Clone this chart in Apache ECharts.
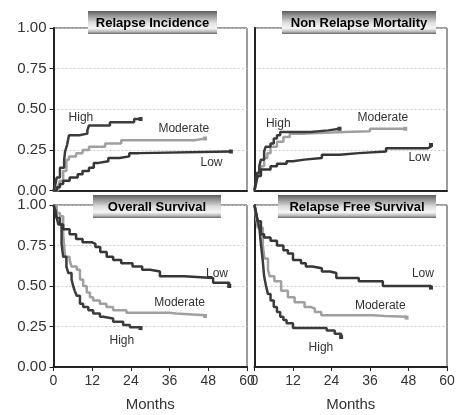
<!DOCTYPE html>
<html>
<head>
<meta charset="utf-8">
<script src="https://cdn.jsdelivr.net/npm/echarts@6/dist/echarts.min.js"></script>
<style>
html,body{margin:0;padding:0;background:#fff;}
#chart{width:474px;height:415px;}
</style>
</head>
<body>
<div id="chart"></div>
<script>
// ---- data (months, probability) ----
const xTicks = [0, 12, 24, 36, 48, 60];
const yTicks = [0, 0.25, 0.5, 0.75, 1];
const panelTitles = ['Relapse Incidence', 'Non Relapse Mortality', 'Overall Survival', 'Relapse Free Survival'];
const groupNames = ['High', 'Moderate', 'Low'];

// Relapse Incidence
const riHigh = [[0,0],[0.5,0.03],[1,0.08],[2,0.14],[3.3,0.19],[3.6,0.24],[4.2,0.28],[4.8,0.34],[8,0.35],[10.5,0.37],[11,0.40],[17.5,0.42],[25,0.44],[27,0.44]];
const riModerate = [[0,0],[1.5,0.03],[2,0.06],[3,0.12],[4,0.19],[4.8,0.21],[7,0.23],[9,0.25],[11,0.27],[16,0.29],[21,0.31],[44,0.32],[47,0.32]];
const riLow = [[0,0],[1,0.02],[2,0.04],[3,0.06],[5,0.08],[7.5,0.1],[9,0.12],[11,0.14],[12.5,0.17],[14,0.18],[17,0.2],[20.5,0.21],[23.5,0.23],[26.5,0.24],[55,0.24]];

// Non Relapse Mortality
const nrmHigh = [[0,0],[0.3,0.05],[0.8,0.11],[1.5,0.15],[2,0.19],[3,0.24],[3.5,0.27],[5,0.29],[6,0.32],[7,0.34],[8,0.36],[17.5,0.37],[23,0.38],[26.5,0.38]];
const nrmModerate = [[0,0],[0.5,0.04],[1,0.1],[2,0.15],[3,0.2],[4,0.23],[5,0.27],[7,0.3],[9,0.33],[11,0.35],[16,0.36],[28,0.365],[36,0.38],[47,0.38]];
const nrmLow = [[0,0],[0.5,0.05],[1,0.09],[2,0.13],[5,0.15],[7,0.165],[10,0.18],[12,0.19],[15.5,0.2],[21,0.22],[26.5,0.23],[32.5,0.24],[41,0.26],[54,0.27],[55,0.28]];

// Overall Survival
const osHigh = [[0,1],[0.5,0.97],[1,0.92],[1.5,0.88],[2.5,0.76],[3,0.68],[4,0.62],[4.6,0.58],[5.6,0.54],[6.1,0.5],[6.6,0.47],[7.2,0.44],[8.2,0.39],[9.2,0.37],[10.8,0.35],[12.3,0.33],[14.4,0.31],[15.4,0.3],[18.5,0.28],[21.6,0.26],[23.7,0.245],[27,0.24]];
const osModerate = [[0,1],[1,0.95],[2,0.93],[3,0.82],[3.6,0.68],[5,0.66],[5.6,0.62],[7.2,0.6],[8.2,0.54],[9.2,0.5],[10.3,0.46],[11.3,0.43],[12.3,0.41],[14.4,0.39],[16.4,0.37],[18.5,0.35],[22.6,0.335],[36,0.33],[38,0.32],[47,0.315]];
const osLow = [[0,1],[0.5,0.97],[1,0.92],[2,0.88],[3,0.85],[5,0.82],[7,0.79],[9,0.77],[12,0.76],[13,0.74],[14.5,0.71],[16.5,0.68],[18.5,0.66],[21,0.64],[24.5,0.62],[27.5,0.6],[30,0.59],[33,0.56],[40.5,0.55],[49.5,0.52],[54.5,0.5]];

// Relapse Free Survival
const rfsHigh = [[0,1],[0.5,0.95],[1,0.9],[1.5,0.86],[2,0.76],[2.6,0.65],[3,0.56],[3.6,0.5],[4.2,0.45],[5,0.41],[6,0.37],[7,0.34],[8,0.31],[9,0.29],[10,0.27],[12,0.24],[22.5,0.225],[25,0.205],[27,0.185]];
const rfsModerate = [[0,1],[0.5,0.92],[1,0.86],[2.6,0.75],[3.1,0.67],[4.2,0.6],[4.7,0.56],[6.2,0.53],[8.3,0.47],[10.4,0.43],[12.5,0.4],[15.6,0.37],[17.7,0.36],[18.8,0.34],[20.8,0.32],[37,0.315],[40.6,0.31],[47.4,0.305]];
const rfsLow = [[0,1],[0.5,0.95],[1,0.9],[2,0.82],[3,0.8],[5,0.78],[7,0.75],[9,0.72],[10.4,0.7],[12,0.66],[14.5,0.64],[16,0.62],[18,0.61],[21,0.59],[23.5,0.58],[25.5,0.55],[32.5,0.53],[40,0.5],[55,0.49]];

// label anchors (months, probability) per panel: High, Moderate, Low
const riLabelAt = [[8.5,0.45],[40.4,0.38],[49,0.17]];
const nrmLabelAt = [[7.4,0.41],[40,0.45],[51.4,0.2]];
const osLabelAt = [[21.2,0.16],[39.1,0.40],[50.7,0.578]];
const rfsLabelAt = [[20.7,0.12],[39.2,0.38],[52.5,0.573]];

// ---- chart ----
const FONT = "'Liberation Sans Narrow','Arial Narrow','Liberation Sans',sans-serif";
const colors = {High:'#3c3c3c', Moderate:'#a0a0a0', Low:'#363636'};
const panels = [
  {sets:[riHigh, riModerate, riLow], labels:riLabelAt},
  {sets:[nrmHigh, nrmModerate, nrmLow], labels:nrmLabelAt},
  {sets:[osHigh, osModerate, osLow], labels:osLabelAt},
  {sets:[rfsHigh, rfsModerate, rfsLow], labels:rfsLabelAt}
];
const gridBoxes = [
  {left:53.5, top:28, width:193.5, height:162.5},
  {left:254.5, top:28, width:192.5, height:162.5},
  {left:53.5, top:205, width:193.5, height:162},
  {left:254.5, top:205, width:192.5, height:162}
];
const banners = [
  {x:88, y:11, w:129, h:23},
  {x:282, y:11, w:154, h:23},
  {x:93, y:195, w:128, h:23},
  {x:278, y:195, w:158, h:23}
];

const grid = gridBoxes.map(g => Object.assign({show:true, borderColor:'#3a3a3a', borderWidth:1, backgroundColor:'#fff'}, g));
const xAxis = gridBoxes.map((g, i) => ({
  type:'value', gridIndex:i, min:xTicks[0], max:xTicks[xTicks.length-1], interval:12,
  name: i >= 2 ? 'Months' : '', nameLocation:'middle', nameGap:30,
  nameTextStyle:{fontFamily:FONT, fontSize:15, color:'#333'},
  axisLine:{show:true, lineStyle:{color:'#222', width:2}},
  axisTick:{show:i >= 2, length:4, lineStyle:{color:'#222'}},
  axisLabel:{show:i >= 2, fontFamily:FONT, fontSize:14, color:'#333', margin:7},
  splitLine:{show:false}
}));
const yAxis = gridBoxes.map((g, i) => ({
  type:'value', gridIndex:i, min:yTicks[0], max:yTicks[yTicks.length-1], interval:0.25,
  axisLine:{show:true, lineStyle:{color:'#222', width:2}},
  axisTick:{show:i % 2 === 0, length:4, lineStyle:{color:'#222'}},
  axisLabel:{show:i % 2 === 0, fontFamily:FONT, fontSize:15, color:'#333', margin:7,
    formatter: v => v.toFixed(2)},
  splitLine:{show:true, lineStyle:{color:'#c8c8c8', type:[2,2], width:1}}
}));

const series = [];
panels.forEach((p, pi) => {
  p.sets.forEach((d, si) => {
    const name = groupNames[si];
    const data = d.map((pt, k) => k === d.length - 1
      ? {value:pt, symbol:'rect', symbolSize:4}
      : {value:pt});
    const lp = p.labels[si];
    series.push({
      type:'line', name: name, xAxisIndex:pi, yAxisIndex:pi,
      step:'end', symbol:'none', showSymbol:true, silent:true,
      z: name === 'Moderate' ? 2 : 3,
      lineStyle:{color:colors[name], width:2.5},
      itemStyle:{color:colors[name]},
      data: data,
      markPoint:{
        symbol:'circle', symbolSize:1, silent:true,
        itemStyle:{color:'rgba(0,0,0,0)'},
        label:{show:true, position:'inside', formatter:name, fontFamily:FONT, fontSize:12, color:'#333'},
        data:[{coord:lp, name:name}]
      },
      animation:false
    });
  });
});

const graphic = [];
banners.forEach((b, i) => {
  graphic.push({
    type:'rect', x:b.x, y:b.y, z:100, zlevel:1, silent:true,
    shape:{x:0, y:0, width:b.w, height:b.h},
    style:{fill:new echarts.graphic.LinearGradient(0,0,0,1,[
      {offset:0, color:'#5c5c5c'},
      {offset:0.18, color:'#8e8e8e'},
      {offset:0.5, color:'#dcdcdc'},
      {offset:0.75, color:'#f7f7f7'},
      {offset:0.9, color:'#b8b8b8'},
      {offset:1, color:'#666'}
    ])}
  });
  graphic.push({
    type:'text', x:b.x + b.w/2, y:b.y + b.h/2 + 1, z:101, zlevel:1, silent:true,
    style:{text:panelTitles[i], fill:'#000', font:"bold 13px 'Liberation Sans', Arial, sans-serif",
      align:'center', verticalAlign:'middle'}
  });
});

const chart = echarts.init(document.getElementById('chart'), null, {renderer:'canvas'});
chart.setOption({
  animation:false,
  backgroundColor:'#fff',
  grid, xAxis, yAxis, series, graphic
});
</script>
</body>
</html>
